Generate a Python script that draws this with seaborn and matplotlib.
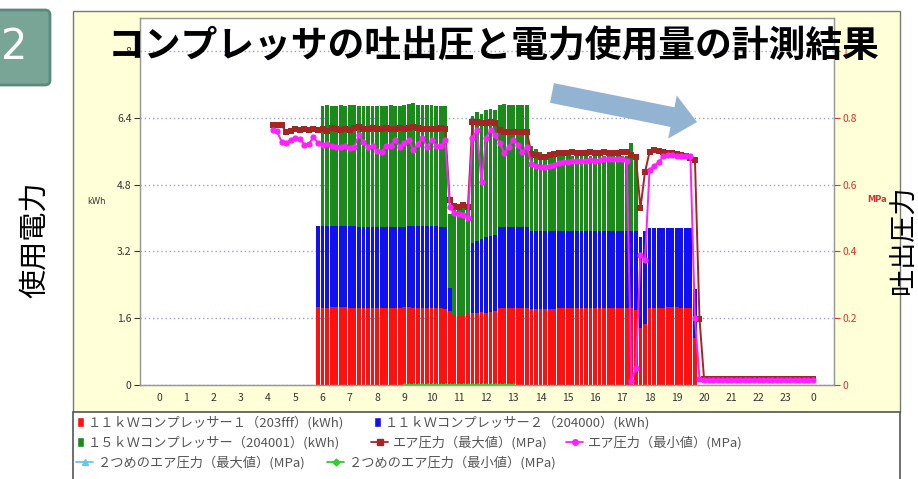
import numpy as np
import pandas as pd
import seaborn as sns
import matplotlib.pyplot as plt
from matplotlib.patches import Rectangle, FancyArrow, FancyBboxPatch, Patch
from matplotlib.lines import Line2D

# ---- data (10 minute readings) ----
# stacked power bars, 5:50 .. 19:40
bar_times = np.arange(35, 119) / 6.0
comp1_kwh = [1.86,
             1.85, 1.85, 1.86, 1.87, 1.86, 1.86,
             1.85, 1.84, 1.83, 1.83, 1.84, 1.84,
             1.85, 1.84, 1.84, 1.85, 1.85, 1.85,
             1.86, 1.86, 1.85, 1.85, 1.84, 1.85,
             1.85, 1.84, 1.84, 1.82, 1.78, 1.68,
             1.66, 1.66, 1.70, 1.72, 1.73, 1.74,
             1.73, 1.74, 1.78, 1.84, 1.84, 1.85,
             1.85, 1.84, 1.84, 1.84, 1.82, 1.82,
             1.81, 1.81, 1.82, 1.82, 1.83, 1.83,
             1.83, 1.83, 1.83, 1.83, 1.83, 1.83,
             1.83, 1.84, 1.84, 1.84, 1.84, 1.84,
             1.84, 1.84, 1.83, 1.80, 1.37, 1.45,
             1.84, 1.85, 1.85, 1.85, 1.86, 1.86,
             1.86, 1.85, 1.85, 1.85, 1.12]
comp2_kwh = [1.95,
             1.95, 1.96, 1.95, 1.94, 1.95, 1.95,
             1.96, 1.96, 1.96, 1.95, 1.95, 1.95,
             1.94, 1.95, 1.95, 1.94, 1.94, 1.94,
             1.93, 1.94, 1.95, 1.95, 1.96, 1.95,
             1.95, 1.96, 1.95, 1.96, 0.53, 0.00,
             0.00, 0.00, 0.00, 1.67, 1.72, 1.76,
             1.82, 1.84, 1.82, 1.95, 1.95, 1.94,
             1.94, 1.95, 1.95, 1.95, 1.86, 1.86,
             1.87, 1.87, 1.86, 1.86, 1.85, 1.85,
             1.86, 1.86, 1.86, 1.87, 1.87, 1.87,
             1.87, 1.86, 1.86, 1.86, 1.86, 1.86,
             1.86, 1.86, 1.86, 1.88, 2.18, 2.23,
             1.91, 1.90, 1.90, 1.90, 1.89, 1.89,
             1.89, 1.90, 1.90, 1.90, 1.18]
comp3_kwh = [0.00,
             2.89, 2.90, 2.88, 2.89, 2.90, 2.89,
             2.90, 2.91, 2.91, 2.90, 2.89, 2.90,
             2.91, 2.90, 2.91, 2.92, 2.91, 2.91,
             2.92, 2.93, 2.96, 2.92, 2.91, 2.91,
             2.91, 2.90, 2.91, 2.90, 1.79, 2.62,
             2.64, 2.64, 2.60, 3.06, 3.10, 3.00,
             3.05, 3.04, 3.00, 2.93, 2.94, 2.93,
             2.93, 2.93, 2.92, 2.93, 2.04, 1.97,
             1.90, 1.84, 1.83, 1.82, 1.82, 1.82,
             1.81, 1.81, 1.80, 1.80, 1.81, 1.80,
             1.80, 1.81, 1.80, 1.80, 1.80, 1.79,
             1.79, 1.78, 2.10, 1.72, 0.00, 0.00,
             0.00, 0.00, 0.00, 0.00, 0.00, 0.00,
             0.00, 0.00, 0.00, 0.00, 0.00]

# air pressure, 4:10 .. 24:00
press_times = np.arange(25, 145) / 6.0
press_max = [0.780, 0.780, 0.778, 0.758, 0.760,
             0.767, 0.765, 0.766, 0.764, 0.767, 0.765,
             0.768, 0.762, 0.770, 0.766, 0.763, 0.768,
             0.765, 0.770, 0.774, 0.768, 0.766, 0.769,
             0.768, 0.767, 0.769, 0.768, 0.768, 0.770,
             0.768, 0.769, 0.773, 0.770, 0.768, 0.767,
             0.768, 0.767, 0.769, 0.768, 0.553, 0.535,
             0.533, 0.540, 0.533, 0.787, 0.788, 0.785,
             0.786, 0.787, 0.785, 0.765, 0.758, 0.757,
             0.758, 0.757, 0.757, 0.758, 0.692, 0.688,
             0.684, 0.684, 0.690, 0.692, 0.695, 0.696,
             0.694, 0.697, 0.695, 0.696, 0.694, 0.697,
             0.696, 0.695, 0.697, 0.696, 0.694, 0.696,
             0.698, 0.699, 0.690, 0.683, 0.530, 0.638,
             0.698, 0.704, 0.700, 0.698, 0.696, 0.694,
             0.692, 0.689, 0.686, 0.680, 0.674, 0.198,
             0.018, 0.018, 0.018, 0.018, 0.018, 0.018,
             0.018, 0.018, 0.018, 0.018, 0.018, 0.018,
             0.018, 0.018, 0.018, 0.018, 0.018, 0.018,
             0.018, 0.018, 0.018, 0.018, 0.018, 0.018,
             0.018]
press_min = [0.764, 0.760, 0.728, 0.725, 0.735,
             0.740, 0.738, 0.720, 0.722, 0.743, 0.725,
             0.719, 0.722, 0.716, 0.713, 0.712, 0.716,
             0.710, 0.714, 0.749, 0.728, 0.712, 0.715,
             0.700, 0.698, 0.716, 0.715, 0.734, 0.713,
             0.725, 0.734, 0.704, 0.722, 0.740, 0.714,
             0.734, 0.716, 0.715, 0.734, 0.533, 0.515,
             0.512, 0.510, 0.500, 0.740, 0.764, 0.607,
             0.740, 0.764, 0.748, 0.725, 0.695, 0.713,
             0.734, 0.720, 0.698, 0.713, 0.663, 0.655,
             0.652, 0.653, 0.655, 0.660, 0.666, 0.668,
             0.668, 0.670, 0.672, 0.670, 0.672, 0.675,
             0.672, 0.675, 0.676, 0.678, 0.676, 0.677,
             0.676, 0.672, 0.012, 0.050, 0.390, 0.373,
             0.645, 0.655, 0.668, 0.685, 0.688, 0.688,
             0.687, 0.686, 0.685, 0.685, 0.200, 0.018,
             0.015, 0.015, 0.015, 0.015, 0.015, 0.015,
             0.015, 0.015, 0.015, 0.015, 0.015, 0.015,
             0.015, 0.015, 0.015, 0.015, 0.015, 0.015,
             0.015, 0.015, 0.015, 0.015, 0.015, 0.015,
             0.015]

# second air pressure (min), 9:00 .. 13:00
press2_times = np.arange(54, 79) / 6.0
press2_min = [0.0, 0.0, 0.0, 0.0, 0.0, 0.0, 0.0, 0.0, 0.0, 0.0,
              0.0, 0.0, 0.0, 0.0, 0.0, 0.0, 0.0, 0.0, 0.0, 0.0,
              0.0, 0.0, 0.0, 0.0, 0.0]

hour_labels = [str(h % 24) for h in range(25)]
kwh_ticks = [0, 1.6, 3.2, 4.8, 6.4, 8.0]
kwh_labels = ["0", "1.6", "3.2", "4.8", "6.4", "8"]
mpa_ticks = [0, 0.2, 0.4, 0.6, 0.8, 1.0]
mpa_labels = ["0", "0.2", "0.4", "0.6", "0.8", "1"]

legend_labels = [
    "１１ｋＷコンプレッサー１（203fff）(kWh)",
    "１１ｋＷコンプレッサー２（204000）(kWh)",
    "１５ｋＷコンプレッサー（204001）(kWh)",
    "エア圧力（最大値）(MPa)",
    "エア圧力（最小値）(MPa)",
    "２つめのエア圧力（最大値）(MPa)",
    "２つめのエア圧力（最小値）(MPa)",
]

RED, BLUE, GREEN = "#ff1010", "#1010f0", "#1a8a1a"
BROWN, MAGENTA = "#a52525", "#ff1fff"
LIGHTBLUE, LIME = "#66c8e8", "#33cc33"

# ---- figure ----
sns.set_style("white")
plt.rcParams["font.family"] = ["Noto Sans CJK JP", "DejaVu Sans"]

W, H = 918, 479
fig = plt.figure(figsize=(W / 100, H / 100), dpi=100)


def fx(px):
    return px / W


def fy(py):
    return 1 - py / H


def inch(px, py):
    return (px / 100, (H - py) / 100)


# yellow chart panel and legend box
fig.add_artist(Rectangle(inch(73, 412), 8.27, 4.01, transform=fig.dpi_scale_trans,
                         facecolor="#ffffd8", edgecolor="#7a7a7a", lw=1, zorder=-2))
fig.add_artist(Rectangle(inch(73, 490), 8.27, 0.78, transform=fig.dpi_scale_trans,
                         facecolor="white", edgecolor="#555555", lw=1.2, zorder=-2))

ax = fig.add_axes([fx(140), fy(384.7), fx(834) - fx(140), (384.7 - 18) / H])
ax.set_facecolor("white")

bottom2 = np.array(comp1_kwh)
bottom3 = bottom2 + np.array(comp2_kwh)
ax.bar(bar_times, comp1_kwh, width=0.14, color=RED, lw=0, zorder=2)
ax.bar(bar_times, comp2_kwh, width=0.14, bottom=bottom2, color=BLUE, lw=0, zorder=2)
ax.bar(bar_times, comp3_kwh, width=0.14, bottom=bottom3, color=GREEN, lw=0, zorder=2)

ax.set_xlim(-0.7, 24.77)
ax.set_ylim(0, 8.8)
ax.set_xticks(range(25))
ax.set_xticklabels(hour_labels)
ax.set_yticks(kwh_ticks)
ax.set_yticklabels(kwh_labels)
ax.yaxis.grid(True, linestyle=(0, (1, 2)), color="#9a9ae8", lw=1)
ax.xaxis.grid(False)
ax.set_axisbelow(True)
ax.tick_params(axis="x", length=3, pad=3, labelsize=7.5, colors="#333333")
ax.tick_params(axis="y", length=4, pad=2, labelsize=7.5, colors="#333333", left=True)
for sp in ax.spines.values():
    sp.set_color("#999999")
    sp.set_linewidth(1)

ax2 = ax.twinx()
ax2.set_ylim(0, 1.1)
sns.lineplot(x=press_times, y=press_max, ax=ax2, color=BROWN, lw=1.4,
             marker="s", markersize=4.5, markeredgewidth=0, legend=False)
sns.lineplot(x=press_times, y=press_min, ax=ax2, color=MAGENTA, lw=1.4,
             marker="o", markersize=4.5, markeredgewidth=0, legend=False)
sns.lineplot(x=press2_times, y=press2_min, ax=ax2, color=LIME, lw=1.4,
             marker="D", markersize=2.5, markeredgewidth=0, legend=False)
ax2.set_yticks(mpa_ticks)
ax2.set_yticklabels(mpa_labels)
ax2.tick_params(axis="y", length=4, pad=2, labelsize=7.5, colors="#e03030", right=True)
ax2.set_ylabel("")
for sp in ax2.spines.values():
    sp.set_color("#999999")

fig.text(fx(97), fy(202), "kWh", fontsize=6, ha="center", va="center",
         color="#333333", family="DejaVu Sans")
fig.text(fx(877), fy(200), "MPa", fontsize=6, ha="center", va="center",
         color="#e03030", family="DejaVu Sans", fontweight="bold")

# legend, one entry at a time to follow the flowing layout
handles = [
    Patch(facecolor=RED), Patch(facecolor=BLUE), Patch(facecolor=GREEN),
    Line2D([], [], color=BROWN, marker="s", markersize=4, lw=1.3),
    Line2D([], [], color=MAGENTA, marker="o", markersize=4, lw=1.3),
    Line2D([], [], color=LIGHTBLUE, marker="^", markersize=4, lw=1.3),
    Line2D([], [], color=LIME, marker="D", markersize=3.5, lw=1.3),
]
entry_pos = [(77, 423), (374, 423), (77, 443), (371, 443), (566, 443),
             (76, 463), (327, 463)]
for i, (hd, lab, (px, py)) in enumerate(zip(handles, legend_labels, entry_pos)):
    hl = 0.5 if i < 3 else 1.3
    fig.legend([hd], [lab], loc="center left", bbox_to_anchor=(fx(px), fy(py)),
               frameon=False, fontsize=9.5, handlelength=hl, handleheight=0.8,
               handletextpad=0.35, borderpad=0, borderaxespad=0,
               labelcolor="#555555")

# slide decorations
fig.text(fx(494), fy(47), "コンプレッサの吐出圧と電力使用量の計測結果",
         fontsize=26.5, fontweight="bold", ha="center", va="center",
         color="black", zorder=10)
fig.text(fx(35), fy(240), "使用電力", rotation=90, fontsize=21,
         ha="center", va="center", color="black")
fig.text(fx(903), fy(240), "吐出圧力", rotation=90, fontsize=19.5,
         ha="center", va="center", color="black", zorder=10)

fig.add_artist(FancyBboxPatch(inch(-30, 85), 0.8, 0.75,
                              boxstyle="round,pad=0,rounding_size=0.05",
                              transform=fig.dpi_scale_trans,
                              facecolor="#78a596", edgecolor="#5b8a7d", lw=2, zorder=5))
fig.text(fx(14), fy(47), "2", color="white", fontsize=30, ha="center",
         va="center", family="DejaVu Sans", zorder=6)

x0, y0 = inch(552, 93)
x1, y1 = inch(697, 122)
fig.add_artist(FancyArrow(x0, y0, x1 - x0, y1 - y0, width=0.2, head_width=0.44,
                          head_length=0.25, length_includes_head=True,
                          transform=fig.dpi_scale_trans, facecolor="#93b3d2",
                          edgecolor="none", zorder=9))

fig.savefig("out.png", dpi=100)
